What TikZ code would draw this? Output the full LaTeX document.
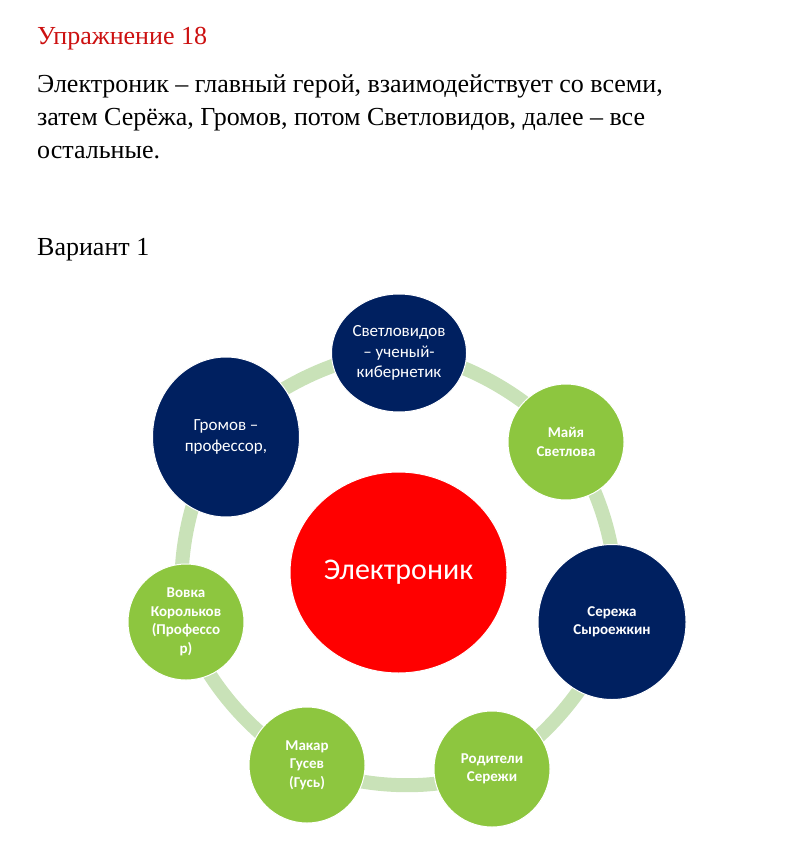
\documentclass[tikz,border=0pt]{standalone}
\usepackage{fontspec}
\setmainfont{Liberation Serif}
\newfontfamily\calibri{Carlito}
\usetikzlibrary{shapes.geometric}
\definecolor{navyblue}{HTML}{002060}
\definecolor{leafgreen}{HTML}{8DC63F}
\definecolor{ringgreen}{HTML}{C9E2B8}
\definecolor{titlered}{HTML}{CC1010}
\tikzset{
  hub/.style={draw=white, line width=1pt, ellipse, fill=red, text=white, inner sep=0pt, minimum width=217pt, minimum height=201pt, font=\calibri\fontsize{30}{36}\selectfont},
  hero/.style={draw=white, line width=1pt, ellipse, fill=navyblue, text=white, align=center, inner sep=0pt, font=\calibri\fontsize{17}{20.5}\selectfont},
  friend/.style={draw=white, line width=1pt, circle, fill=leafgreen, text=white, align=center, inner sep=0pt, minimum size=116pt, font=\calibri\bfseries\fontsize{15}{18.5}\selectfont},
  textline/.style={anchor=base west, inner sep=0pt, font=\fontsize{26}{31}\selectfont},
  ring/.style={draw=ringgreen, line width=14pt}
}
\begin{document}
\begin{tikzpicture}[x=1pt, y=-1pt]
  \useasboundingbox (0,0) rectangle (791,866);
  % Heading and task text
  \node[textline, text=titlered] (title) at (37,45) {Упражнение 18};
  \node[textline] (line1) at (37,93) {Электроник – главный герой, взаимодействует со всеми,};
  \node[textline] (line2) at (37,126) {затем Серёжа, Громов, потом Светловидов, далее – все};
  \node[textline] (line3) at (37,159) {остальные.};
  \node[textline] (variant) at (37,256) {Вариант 1};
  % Characters around the ring
  \coordinate (svetc) at (399,353);
  \coordinate (mayac) at (566,442);
  \coordinate (serc) at (612,622);
  \coordinate (rodc) at (492,769);
  \coordinate (makc) at (307,765);
  \coordinate (vovc) at (186,622);
  \coordinate (gromc) at (226,437);
  % Ring through the characters
  \draw[ring] plot[smooth cycle, tension=0.6] coordinates {(svetc) (mayac) (serc) (rodc) (makc) (vovc) (gromc)};
  \node[hero, minimum width=135pt, minimum height=118pt] (svet) at (svetc) {Светловидов\\– ученый-\\кибернетик};
  \node[friend] (maya) at (mayac) {Майя\\Светлова};
  \node[hero, font=\calibri\bfseries\fontsize{15}{18.5}\selectfont, minimum width=148pt, minimum height=155pt] (serezha) at (serc) {Сережа\\Сыроежкин};
  \node[friend] (roditeli) at (rodc) {Родители\\Сережи};
  \node[friend] (makar) at (makc) {Макар\\Гусев\\(Гусь)};
  \node[friend] (vovka) at (vovc) {Вовка\\Корольков\\(Профессо\\р)};
  \node[hero, minimum width=147pt, minimum height=160pt] (gromov) at (gromc) {Громов –\\профессор,};
  % Main hero in the middle
  \node[hub] (elec) at (398.5,572.5) {Электроник};
\end{tikzpicture}
\end{document}
